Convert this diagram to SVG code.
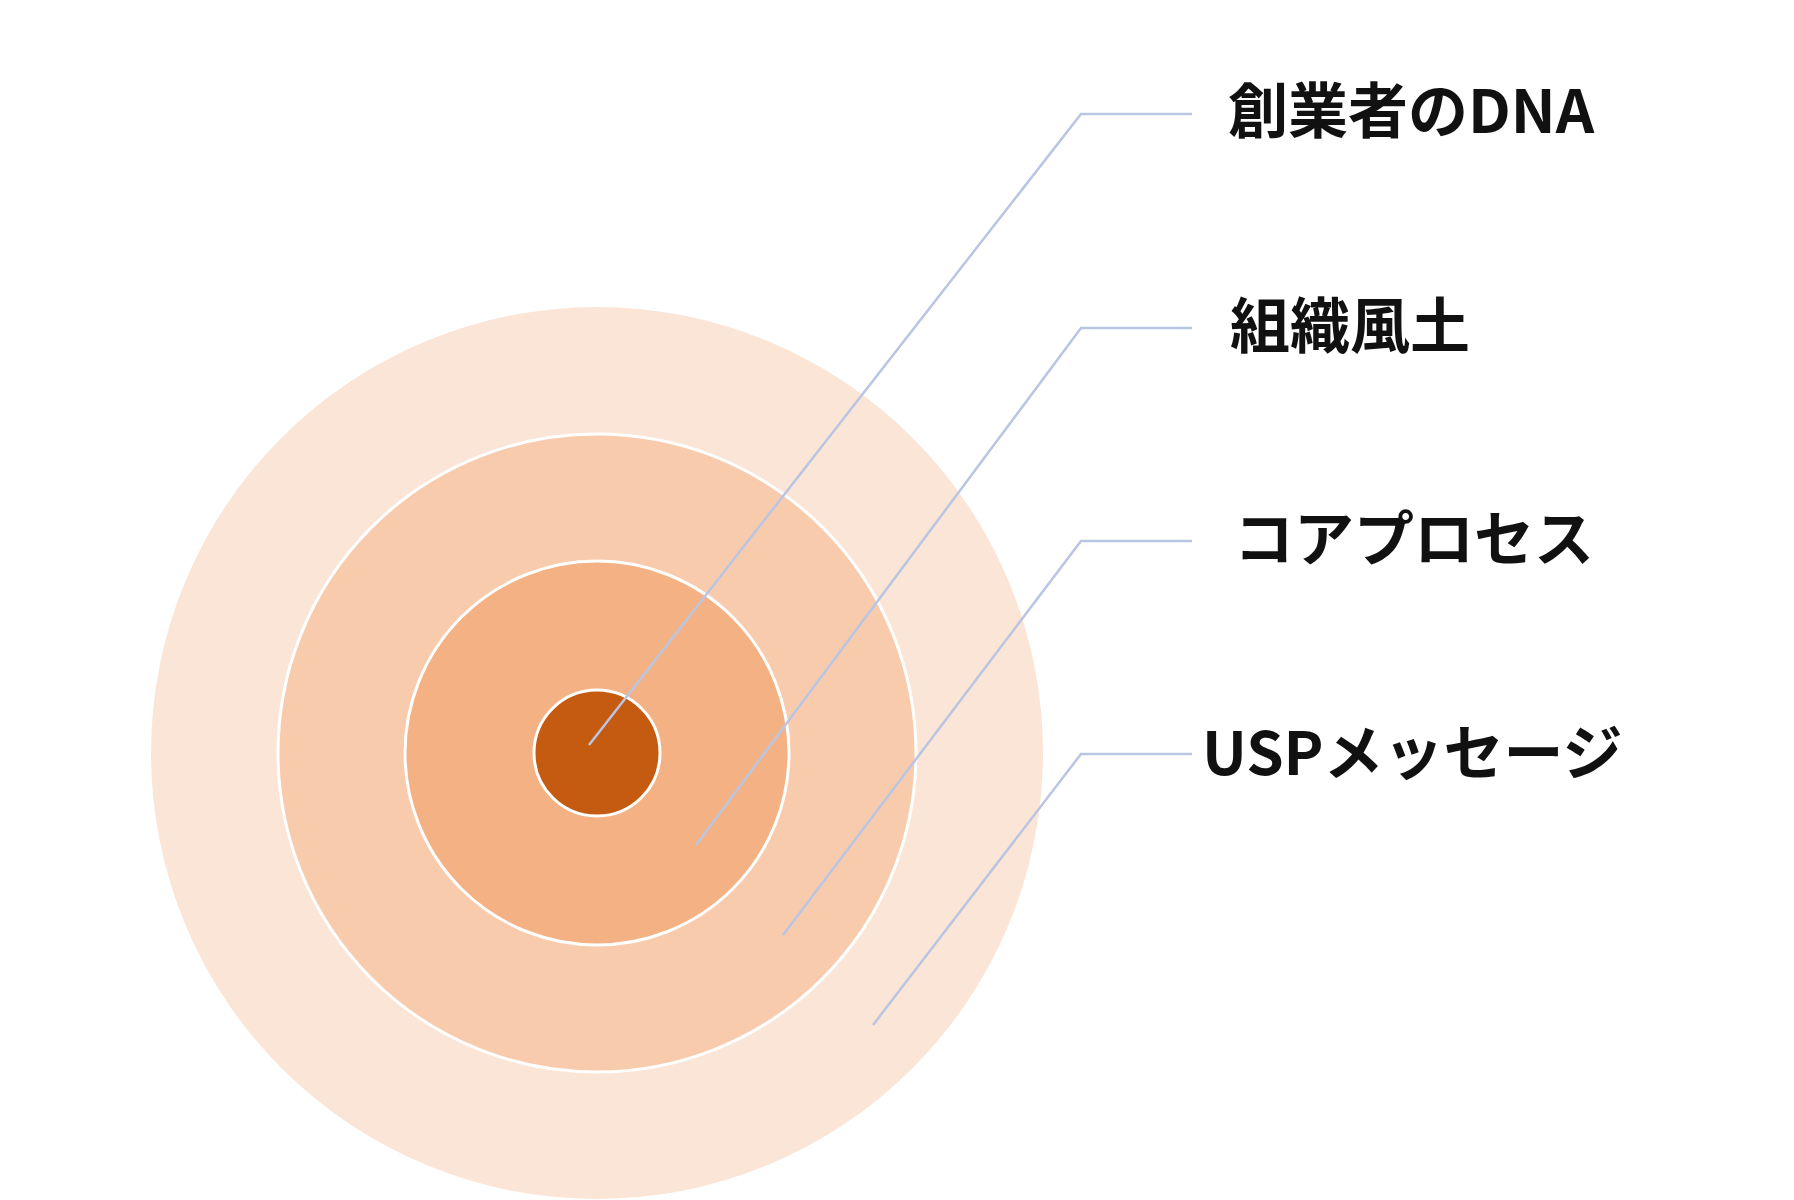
<svg xmlns="http://www.w3.org/2000/svg" width="1794" height="1200" viewBox="0 0 1794 1200">
<style>
.c{stroke:#fff;stroke-width:3}
.l{fill:none;stroke:#b9c5e2;stroke-width:2.5}
.t{font-family:"Noto Sans CJK JP","Noto Sans",sans-serif;font-weight:bold;font-size:60px;fill:#111}
</style>
<rect width="1794" height="1200" fill="#fff"/>
<g id="outer"><circle cx="597" cy="753" r="446" fill="#fbe5d6"/></g>
<g id="ring2"><circle class="c" cx="597" cy="753" r="319" fill="#f8cbad"/></g>
<g id="ring3"><circle class="c" cx="597" cy="753" r="192" fill="#f4b183"/></g>
<g id="inner"><circle class="c" cx="597" cy="753" r="63" fill="#c55a11"/></g>
<g id="connectors">
<polyline class="l" points="589,745 1081,114 1192,114"/>
<polyline class="l" points="696,845 1081,328 1192,328"/>
<polyline class="l" points="783,935 1081,541 1192,541"/>
<polyline class="l" points="873,1025 1081,754 1192,754"/>
</g>
<g id="label1"><text class="t" x="1228" y="133">創業者のDNA</text></g>
<g id="label2"><text class="t" x="1230" y="348">組織風土</text></g>
<g id="label3"><text class="t" x="1234" y="561">コアプロセス</text></g>
<g id="label4"><text class="t" x="1202" y="775">USPメッセージ</text></g>
</svg>
